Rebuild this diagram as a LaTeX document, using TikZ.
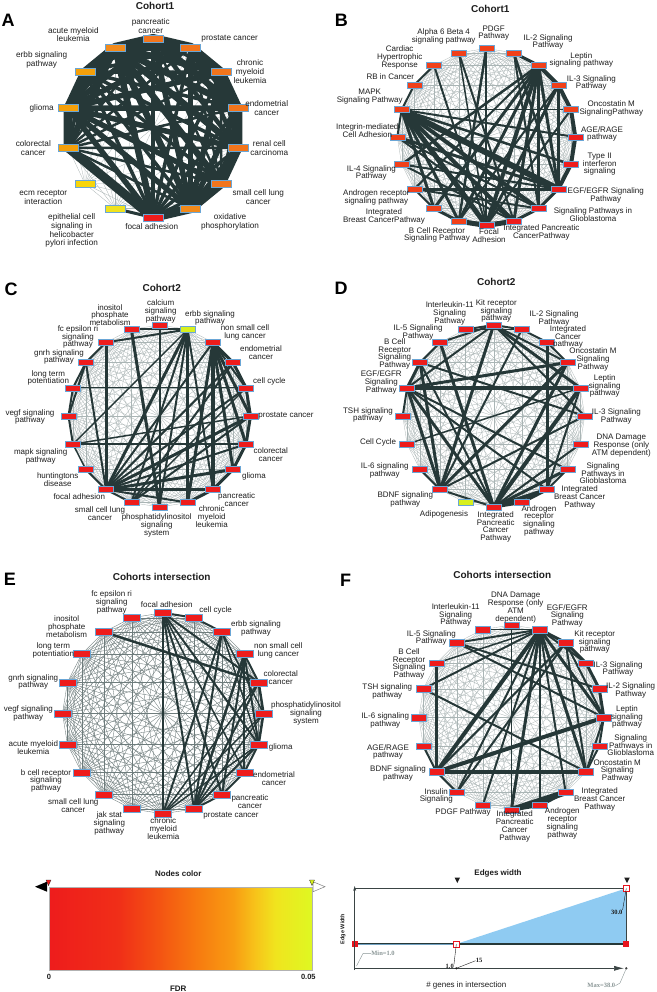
\documentclass[tikz,border=0pt]{standalone}
\usepackage{fontspec}
\setmainfont{Liberation Sans}
\newfontfamily\serifnum{Liberation Serif}
\usetikzlibrary{calc,arrows.meta}
\definecolor{edgedark}{HTML}{263838}
\definecolor{meshgrey}{HTML}{AAB5B5}
\definecolor{meshdark}{HTML}{6E7C7C}
\definecolor{ndline}{HTML}{6AA6D6}
\definecolor{txt}{HTML}{1E1E1E}
\definecolor{fdrred}{HTML}{EE1C1C}
\definecolor{fdrredor}{HTML}{F0401A}
\definecolor{fdrorange}{HTML}{F2751C}
\definecolor{fdrorange2}{HTML}{F28A1A}
\definecolor{fdramber}{HTML}{F5A00A}
\definecolor{fdrgold}{HTML}{F7D50A}
\definecolor{fdryellow}{HTML}{F0E21E}
\definecolor{fdrlime}{HTML}{D8F01E}
\definecolor{sc1}{HTML}{F02E18}
\definecolor{sc2}{HTML}{F45412}
\definecolor{sc3}{HTML}{F77A10}
\definecolor{sc4}{HTML}{F89C12}
\definecolor{sc5}{HTML}{F7C21A}
\definecolor{sc6}{HTML}{F0E41E}
\definecolor{sc7}{HTML}{DEF822}
\definecolor{knobred}{HTML}{E8141E}
\definecolor{skyfill}{HTML}{8FCBF2}
\definecolor{axisgrey}{HTML}{8A9696}
\definecolor{framegrey}{HTML}{3A4444}
\pgfdeclarelayer{back}
\pgfdeclarelayer{edges}
\pgfsetlayers{back,edges,main}
\pgfdeclarehorizontalshading{fdrscale}{100bp}{color(0bp)=(fdrred); color(25bp)=(fdrred);
  color(38bp)=(sc1); color(46bp)=(sc2); color(53bp)=(sc3); color(60bp)=(sc4);
  color(64bp)=(sc5); color(68bp)=(sc6); color(75bp)=(sc7); color(100bp)=(sc7)}
\newcommand{\lblfont}{\fontsize{8}{7.8}\selectfont\lineskiplimit=-20pt\relax}
\newcommand{\lblfontA}{\fontsize{8.2}{8.8}\selectfont\lineskiplimit=-20pt\relax}
% all-pairs thin mesh of one ring
\newcommand{\ringmesh}[3]{%
  \foreach \i in {0,...,#2}{%
    \foreach \j in {\i,...,#2}{%
      \ifnum\j>\i \draw[#3] (#1\i.center) -- (#1\j.center);\fi}}}
\tikzset{
  nd/.style={rectangle, draw=ndline, line width=0.5pt, inner sep=0pt,
             minimum width=15pt, minimum height=6pt},
  nda/.style={nd, minimum width=20pt, minimum height=7pt},
  nde/.style={nd, minimum width=17pt, minimum height=7pt},
  ndf/.style={nd, minimum width=15pt, minimum height=6.5pt},
  lbl/.style={font=\lblfont, align=center, inner sep=0pt, text=txt},
  lbla/.style={lbl, font=\lblfontA},
  ttl/.style={font=\bfseries\fontsize{10}{12}\selectfont, text=txt, inner sep=0pt},
  plet/.style={font=\bfseries\fontsize{18}{18}\selectfont, inner sep=0pt},
  legt/.style={font=\bfseries\fontsize{8}{9}\selectfont, text=txt, inner sep=0pt},
  ticklbl/.style={font=\bfseries\fontsize{7.5}{8}\selectfont, text=txt, inner sep=0pt},
  numl/.style={font=\serifnum\bfseries\fontsize{6.5}{7}\selectfont, text=txt, inner sep=0pt},
  mesh/.style={draw=meshgrey, line width=0.3pt},
  meshe/.style={draw=meshdark, line width=0.35pt},
  thk/.style={draw=edgedark, line width=#1},
  leader/.style={draw=txt, line width=0.4pt},
  axisline/.style={draw=framegrey, line width=0.7pt},
  knob/.style={draw=knobred, line width=1pt, fill=white}
}

\begin{document}
\begin{tikzpicture}[x=1pt,y=-1pt]
\begin{pgfonlayer}{back}
  \fill[white] (0,0) rectangle (656,992);
\end{pgfonlayer}
\useasboundingbox (0,0) rectangle (656,992);

% A: Cohort1, diseases
\node[plet] (letA) at (8,20) {A};
\node[ttl] (ttlA) at (155,5.5) {Cohort1};
\coordinate (cA) at (153,128);
\foreach \i/\col/\x/\y/\t in {
   0/fdrorange/150.7/25.8/pancreatic\\cancer,
   1/fdrorange/229.7/39/prostate cancer,
   2/fdrorange/250/71.3/chronic\\myeloid\\leukemia,
   3/fdrorange/266.7/108.3/endometrial\\cancer,
   4/fdrorange/269.3/148/renal cell\\carcinoma,
   5/fdrorange/258.3/197/small cell lung\\cancer,
   6/fdrorange2/230/222/oxidative\\phosphorylation,
   7/fdrred/151.7/226.7/focal adhesion,
   8/fdryellow/71.7/230.5/epithelial cell\\signaling in\\helicobacter\\pylori infection,
   9/fdrgold/43.3/197/ecm receptor\\interaction,
   10/fdramber/33.3/148/colorectal\\cancer,
   11/fdramber/41.7/108.3/glioma,
   12/fdramber/41.7/59.7/erbb signaling\\pathway,
   13/fdrorange2/73.3/34.5/acute myeloid\\leukemia} {
  \node[nda, fill=\col] (a\i) at ($(cA)+({\i*360/14-90}:87 and 89.5)$) {};
  \node[lbla] (la\i) at (\x,\y) {\t};
}
\begin{pgfonlayer}{edges}
  \ringmesh{a}{13}{mesh}
  \foreach \i in {0,...,7,10,11,12,13} {
    \foreach \j in {0,...,7,10,11,12,13} {
      \ifnum\j>\i
        \pgfmathsetmacro\w{2.5+mod(\i*5+\j*3,5)}
        \draw[thk=\w pt] (a\i.center) -- (a\j.center);
      \fi}}
  \draw[thk=9pt, line join=round] (a0.center) -- (a1.center) -- (a2.center) -- (a3.center)
    -- (a4.center) -- (a5.center) -- (a6.center) -- (a7.center) -- (a10.center)
    -- (a11.center) -- (a12.center) -- (a13.center) -- cycle;
  \draw[thk=3pt] (a7.center) -- (a8.center);
\end{pgfonlayer}

% B: Cohort1, pathways
\node[plet] (letB) at (341.3,20) {B};
\node[ttl] (ttlB) at (490.3,9) {Cohort1};
\coordinate (cB) at (486.3,137);
\foreach \i/\col/\x/\y/\t in {
   0/fdrredor/493.7/33/PDGF\\Pathway,
   1/fdrredor/548/42/IL-2 Signaling\\Pathway,
   2/fdrredor/581.3/60/Leptin\\signaling pathway,
   3/fdrredor/591.3/83/IL-3 Signaling\\Pathway,
   4/fdrredor/611.3/108.7/Oncostatin M\\SignalingPathway,
   5/fdrred/602/134/AGE\slash RAGE\\pathway,
   6/fdrred/599.7/164.2/Type II\\interferon\\signaling,
   7/fdrred/605.7/195.7/EGF\slash EGFR Signaling\\Pathway,
   8/fdrred/593/215/Signaling Pathways in\\Glioblastoma,
   9/fdrred/541.3/232.2/Integrated Pancreatic\\CancerPathway,
   10/fdrred/489/236/Focal\\Adhesion,
   11/fdrredor/437/235/B Cell Receptor\\Signaling Pathway,
   12/fdrredor/384/216.8/Integrated\\Breast CancerPathway,
   13/fdrredor/376.3/197.5/Androgen receptor\\signaling pathway,
   14/fdrredor/371.3/173/IL-4 Signaling\\Pathway,
   15/fdrredor/367.3/130.5/Integrin-mediated\\Cell Adhesion,
   16/fdrredor/369.7/96.5/MAPK\\Signaling Pathway,
   17/fdrredor/390.3/77/RB in Cancer,
   18/fdrredor/399.7/57.5/Cardiac\\Hypertrophic\\Response,
   19/fdrredor/443.7/36.3/Alpha 6 Beta 4\\signaling pathway} {
  \node[nd, fill=\col] (b\i) at ($(cB)+({\i*18-90}:89 and 88.5)$) {};
  \node[lbl] (lb\i) at (\x,\y) {\t};
}
\begin{pgfonlayer}{edges}
  \ringmesh{b}{19}{mesh}
  \foreach \i/\j/\w in {16/7/6, 16/8/4, 16/9/4, 16/10/5, 16/11/3, 16/12/3, 16/6/2.5,
      16/5/2, 16/4/1.5, 16/17/2, 17/18/2, 16/15/2, 2/10/4, 2/11/3, 2/12/3, 2/9/3,
      2/13/2, 2/14/2.5, 2/7/3, 2/8/3, 1/2/3, 2/3/4, 3/4/4, 4/5/4, 5/6/4, 6/7/4, 7/8/3,
      8/9/3, 9/10/5, 10/11/5, 11/12/3, 12/13/2, 3/10/3, 3/11/2, 3/7/3, 4/10/2, 1/8/2,
      1/7/2.5, 0/11/2.5, 0/10/2, 19/9/2, 19/10/1.5, 18/10/2, 15/7/3, 15/8/2, 14/7/2,
      13/7/3, 15/9/2, 14/9/2, 13/8/2}
    \draw[thk=\w pt] (b\i.center) -- (b\j.center);
\end{pgfonlayer}

% C: Cohort2, diseases
\node[plet] (letC) at (11,289) {C};
\node[ttl] (ttlC) at (161.7,287.7) {Cohort2};
\coordinate (cC) at (159.5,416);
\foreach \i/\col/\x/\y/\t in {
   0/fdrred/160.7/311.3/calcium\\signaling\\pathway,
   1/fdrlime/210/318/erbb signaling\\pathway,
   2/fdrred/245/332.2/non small cell\\lung cancer,
   3/fdrred/261/352.8/endometrial\\cancer,
   4/fdrred/269.3/381/cell cycle,
   5/fdrred/286/416/prostate cancer,
   6/fdrred/270.7/454.8/colorectal\\cancer,
   7/fdrred/254/476.7/glioma,
   8/fdrred/236.7/499.8/pancreatic\\cancer,
   9/fdrred/211.7/516.7/chronic\\myeloid\\leukemia,
   10/fdrred/156.7/525.3/phosphatidylinositol\\signaling\\system,
   11/fdrred/100/513.3/small cell lung\\cancer,
   12/fdrred/79.3/496.7/focal adhesion,
   13/fdrred/57.7/479.5/huntingtons\\disease,
   14/fdrred/40.7/456.3/mapk signaling\\pathway,
   15/fdrred/30/417/vegf signaling\\pathway,
   16/fdrred/48.3/378/long term\\potentiation,
   17/fdrred/59/357/gnrh signaling\\pathway,
   18/fdrred/78/337/fc epsilon ri\\signaling\\pathway,
   19/fdrred/110/315/inositol\\phosphate\\metabolism} {
  \node[nd, fill=\col] (c\i) at ($(cC)+({\i*18-90}:91)$) {};
  \node[lbl] (lc\i) at (\x,\y) {\t};
}
\begin{pgfonlayer}{edges}
  \ringmesh{c}{19}{mesh}
  \foreach \i/\j/\w in {2/3/3, 3/4/3, 4/5/3, 5/6/3, 6/7/3, 7/8/3, 8/9/3, 2/5/3, 2/6/3,
      2/7/3, 2/8/4, 2/9/3, 2/4/2, 12/2/2, 12/3/2, 12/4/2, 12/5/3, 12/6/2, 12/7/3,
      12/8/3, 12/9/2, 12/1/3, 12/18/3, 12/11/2, 12/13/2, 1/9/3, 1/11/2, 1/8/2, 1/19/2,
      1/18/2, 1/14/1.5, 1/10/2, 0/10/2, 19/10/3, 17/16/2, 16/15/2, 15/14/2, 17/18/2,
      14/13/1.5, 17/15/2, 14/6/1.5, 16/4/1, 17/12/2, 5/11/2, 5/14/1.5, 4/11/1.5, 3/11/2}
    \draw[thk=\w pt] (c\i.center) -- (c\j.center);
\end{pgfonlayer}

% D: Cohort2, pathways
\node[plet] (letD) at (341,288.3) {D};
\node[ttl] (ttlD) at (496.3,282.3) {Cohort2};
\coordinate (cD) at (493.7,416);
\foreach \i/\col/\x/\y/\t in {
   0/fdrred/496.3/311/Kit receptor\\signaling\\pathway,
   1/fdrred/554/318.7/IL-2 Signaling\\Pathway,
   2/fdrred/568/337/Integrated\\Cancer\\pathway,
   3/fdrred/593/359.3/Oncostatin M\\Signaling\\Pathway,
   4/fdrred/604.7/386/Leptin\\signaling\\pathway,
   5/fdrred/616.3/416.7/IL-3 Signaling\\Pathway,
   6/fdrred/621.3/445.3/DNA Damage\\Response (only\\ATM dependent),
   7/fdrred/603/473.3/Signaling\\Pathways in\\Glioblastoma,
   8/fdrred/579.7/497.5/Integrated\\Breast Cancer\\Pathway,
   9/fdrred/539/520.8/Androgen\\receptor\\signaling\\pathway,
   10/fdrred/495.7/527/Integrated\\Pancreatic\\Cancer\\Pathway,
   11/fdrlime/444/514/Adipogenesis,
   12/fdrred/405.3/499.5/BDNF signaling\\pathway,
   13/fdrred/384.7/470.5/IL-6 signaling\\pathway,
   14/fdrred/378/442.7/Cell Cycle,
   15/fdrred/368/415/TSH signaling\\pathway,
   16/fdrred/381.3/382.5/EGF\slash EGFR\\Signaling\\Pathway,
   17/fdrred/394.7/354/B Cell\\Receptor\\Signaling\\Pathway,
   18/fdrred/418/332.2/IL-5 Signaling\\Pathway,
   19/fdrred/449.7/313.3/Interleukin-11\\Signaling\\Pathway} {
  \node[nd, fill=\col] (d\i) at ($(cD)+({\i*18-90}:91)$) {};
  \node[lbl] (ld\i) at (\x,\y) {\t};
}
\begin{pgfonlayer}{edges}
  \ringmesh{d}{19}{mesh}
  \foreach \i/\j/\w in {16/4/4, 16/12/3, 16/10/3, 16/8/2, 16/3/3, 16/17/3, 16/15/2, 16/7/2,
      0/12/3, 0/4/3, 0/5/2, 0/16/2, 0/18/2, 0/19/2, 0/1/2, 0/3/2, 12/3/3, 12/5/2, 12/1/2,
      12/17/3, 12/13/2, 12/10/2, 10/3/3, 10/4/4, 10/18/3, 10/17/2, 10/7/3, 10/8/4, 10/6/2,
      10/9/3, 2/8/3, 8/9/3, 8/7/2, 8/4/2, 17/18/2, 17/5/2, 19/1/1.5, 1/2/2, 2/3/2, 14/4/1.5}
    \draw[thk=\w pt] (d\i.center) -- (d\j.center);
\end{pgfonlayer}

% E: intersection, diseases
\node[plet] (letE) at (10,579) {E};
\node[ttl] (ttlE) at (161.7,577.3) {Cohorts intersection};
\coordinate (cE) at (163,713.3);
\foreach \i/\col/\x/\y/\t in {
   0/fdrred/166.7/605/focal adhesion,
   1/fdrred/215.7/610/cell cycle,
   2/fdrred/256/628.3/erbb signaling\\pathway,
   3/fdrred/278.3/650.3/non small cell\\lung cancer,
   4/fdrred/280.7/678/colorectal\\cancer,
   5/fdrred/306/713.2/phosphatidylinositol\\signaling\\system,
   6/fdrred/280.7/747.3/glioma,
   7/fdrred/274/779/endometrial\\cancer,
   8/fdrred/250/802/pancreatic\\cancer,
   9/fdrred/231/815.7/prostate cancer,
   10/fdrred/163.3/828.7/chronic\\myeloid\\leukemia,
   11/fdrred/109.3/823.3/jak stat\\signaling\\pathway,
   12/fdrred/73.3/805.5/small cell lung\\cancer,
   13/fdrred/46/780.8/b cell receptor\\signaling\\pathway,
   14/fdrred/33.3/747.8/acute myeloid\\leukemia,
   15/fdrred/28.3/713.7/vegf signaling\\pathway,
   16/fdrred/33.3/682/gnrh signaling\\pathway,
   17/fdrred/53.3/650.3/long term\\potentiation,
   18/fdrred/66.7/626.7/inositol\\phosphate\\metabolism,
   19/fdrred/111.7/602.5/fc epsilon ri\\signaling\\pathway} {
  \node[nde, fill=\col] (e\i) at ($(cE)+({\i*18-90}:100.5)$) {};
  \node[lbl] (le\i) at (\x,\y) {\t};
}
\begin{pgfonlayer}{edges}
  \ringmesh{e}{19}{meshe}
  \foreach \i/\j/\w in {0/4/2, 0/6/2, 0/10/2.5, 0/9/2, 0/8/2, 0/7/1.5, 0/1/2, 1/2/2,
      18/4/2.5, 2/10/2, 2/9/2, 2/6/1.5, 2/5/1.5, 3/6/2, 3/7/2, 3/8/2, 3/9/2.5, 3/4/2,
      4/5/2.5, 5/6/2.5, 6/7/2, 7/8/2, 8/9/2, 9/4/2, 9/5/1.5, 10/4/1.5, 10/5/1.5,
      10/6/1.5, 9/6/2}
    \draw[thk=\w pt] (e\i.center) -- (e\j.center);
\end{pgfonlayer}

% F: intersection, pathways
\node[plet] (letF) at (345.5,580) {F};
\node[ttl] (ttlF) at (502.3,575) {Cohorts intersection};
\coordinate (cF) at (511.3,717.5);
\foreach \i/\col/\x/\y/\t in {
   0/fdrred/515.7/607.5/DNA Damage\\Response (only\\ATM\\dependent),
   1/fdrred/567.3/615.8/EGF\slash EGFR\\Signaling\\Pathway,
   2/fdrred/594.7/642/Kit receptor\\signaling\\pathway,
   3/fdrred/618/669/IL-3 Signaling\\Pathway,
   4/fdrred/630.7/690.3/IL-2 Signaling\\Pathway,
   5/fdrred/627/717/Leptin\\signaling\\pathway,
   6/fdrred/630.7/745.3/Signaling\\Pathways in\\Glioblastoma,
   7/fdrred/617.3/770.8/Oncostatin M\\Signaling\\Pathway,
   8/fdrred/599.7/799.5/Integrated\\Breast Cancer\\Pathway,
   9/fdrred/562.3/823.3/Androgen\\receptor\\signaling\\pathway,
   10/fdrred/514.7/826.3/Integrated\\Pancreatic\\Cancer\\Pathway,
   11/fdrred/463/812.7/PDGF Pathway,
   12/fdrred/436.3/796/Insulin\\Signaling,
   13/fdrred/398/773.7/BDNF signaling\\pathway,
   14/fdrred/388/752/AGE\slash RAGE\\pathway,
   15/fdrred/385.3/720.5/IL-6 signaling\\pathway,
   16/fdrred/387.3/691.7/TSH signaling\\pathway,
   17/fdrred/409/664/B Cell\\Receptor\\Signaling\\Pathway,
   18/fdrred/431.3/638/IL-5 Signaling\\Pathway,
   19/fdrred/455.7/615/Interleukin-11\\Signaling\\Pathway} {
  \node[ndf, fill=\col] (f\i) at ($(cF)+({\i*18-90}:92.5)$) {};
  \node[lbl] (lf\i) at (\x,\y) {\t};
}
\begin{pgfonlayer}{edges}
  \ringmesh{f}{19}{mesh}
  \foreach \i/\j/\w in {1/13/4, 1/10/3, 1/7/3, 1/5/3, 1/2/3, 1/3/2, 1/8/2, 1/9/2, 1/12/2,
      1/18/2, 1/16/2, 1/17/1.5, 1/11/2, 0/10/1.5, 13/7/4, 13/5/4, 13/17/3, 13/12/2,
      13/2/2, 13/14/2, 2/3/3, 3/4/3, 4/5/3, 2/7/2, 2/5/2, 10/9/3, 9/8/3, 10/8/6, 18/4/2,
      18/5/2, 16/7/2, 12/2/2, 19/1/1.5, 5/6/2, 6/7/2, 5/7/2}
    \draw[thk=\w pt] (f\i.center) -- (f\j.center);
\end{pgfonlayer}

% legend: nodes color
\node[legt] (nctitle) at (178.3,873.3) {Nodes color};
\shadedraw[shading=fdrscale, draw=gray!60, line width=0.4pt] (49,887.3) rectangle (312.3,970);
\fill[black] (35,886.7) -- (47,881.7) -- (47,891.7) -- cycle;
\filldraw[fill=fdrred, draw=txt, line width=0.3pt] (46,880) -- (51,880) -- (48.5,885.5) -- cycle;
\filldraw[fill=white, draw=gray, line width=0.5pt] (325,886.7) -- (313,881.7) -- (313,891.7) -- cycle;
\filldraw[fill=fdrlime, draw=txt, line width=0.3pt] (309.5,880) -- (314.5,880) -- (312,885.5) -- cycle;
\node[ticklbl] (fdrlo) at (49,976.7) {0};
\node[ticklbl] (fdrhi) at (308.3,976.7) {0.05};
\node[legt] (fdrlbl) at (178.3,989) {FDR};

% legend: edges width
\node[legt] (ewtitle) at (498,873.3) {Edges width};
\coordinate (hmin) at (354.7,944);
\coordinate (hmid) at (456.3,944);
\coordinate (hmax) at (626.3,944);
\coordinate (htop) at (626.3,888.3);
\coordinate (xorig) at (354.7,968.3);
\coordinate (xdot) at (456.3,968.3);
\coordinate (xend) at (626.3,968.3);
\fill[skyfill] (hmid) -- (htop) -- (hmax) -- cycle;
\draw[framegrey, line width=0.8pt] (354.7,888.3) rectangle (hmax);
\draw[edgedark, line width=1.2pt] (hmin) -- (hmax);
\draw[skyfill!80!black, line width=0.6pt] (hmin) -- (hmid);
\fill[knobred] (351.8,941.1) rectangle (357.6,946.9);
\fill[knobred] (623.4,941.1) rectangle (629.2,946.9);
\path[knob] (453.3,941) rectangle (459.3,947);
\path[knob] (623.3,885.3) rectangle (629.3,891.3);
\foreach \x in {457.3,627}
  \fill[txt] (\x-2.8,877.5) -- (\x+2.8,877.5) -- (\x,883) -- cycle;
\draw[axisline, -{Stealth[length=5pt,width=3pt]}] (354.7,970) -- (354.7,886);
\draw[axisline, -{Latex[length=10pt,width=5pt]}] (xorig) -- (624,968.3);
\fill[txt] (xend) circle (1.2);
\fill[txt] (xdot) circle (1.2);
\node[inner sep=0pt, text=txt, rotate=90, font=\bfseries\fontsize{5.5}{6}\selectfont] (ewaxis) at (343,929) {Edge Width};
\node[numl] (ewtop) at (616.7,912.3) {30.0};
\draw[leader] (htop) -- (ewtop.north east);
\node[numl, text=axisgrey] (ewmin) at (383,953.3) {Min=1.0};
\draw[leader, draw=axisgrey] (ewmin.west) -- ++(-8,0) -- (356.5,966);
\node[numl] (ewone) at (449.7,966.7) {1.0};
\draw[leader] (hmid) -- (ewone.north east);
\node[numl] (ewmid) at (479,960.7) {15};
\draw[leader] (xdot) -- (ewmid.west);
\node[numl, text=axisgrey] (ewmax) at (601.3,985.7) {Max=38.0};
\draw[leader, draw=axisgrey] (xend) -- (620,983) -- (ewmax.east);
\node[lbl] (ewlbl) at (466.3,985) {\# genes in intersection};
\end{tikzpicture}
\end{document}
